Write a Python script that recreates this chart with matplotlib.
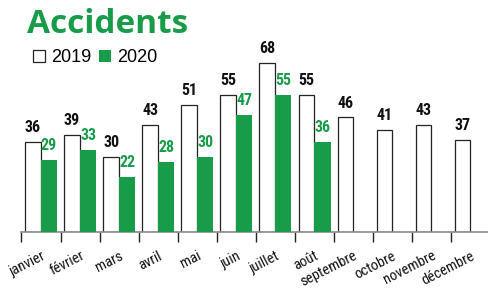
import matplotlib
matplotlib.use("Agg")
import matplotlib.pyplot as plt
import numpy as np

months = ['janvier', 'février', 'mars', 'avril', 'mai', 'juin', 'juillet',
          'août', 'septembre', 'octobre', 'novembre', 'décembre']
acc_2019 = [36, 39, 30, 43, 51, 55, 68, 55, 46, 41, 43, 37]
acc_2020 = [29, 33, 22, 28, 30, 47, 55, 36]
series_names = ['2019', '2020']
title = 'Accidents'

GREEN = '#189c4a'
NARROW = ['Roboto Condensed', 'PT Sans Narrow', 'Liberation Sans', 'DejaVu Sans']

W, H = 488, 288
fig = plt.figure(figsize=(W / 100, H / 100), dpi=100)
ax = fig.add_axes([21.5 / W, 56 / H, (490 - 21.5) / W, 174.3 / H])

x = np.arange(len(months))
x20 = np.arange(len(acc_2020))
bw = 0.40
off = 0.205
b19 = ax.bar(x - off, acc_2019, width=bw, facecolor='white', edgecolor='#222222',
             linewidth=0.9, label=series_names[0], zorder=2)
b20 = ax.bar(x20 + off, acc_2020, width=bw + 0.02, facecolor=GREEN, edgecolor='none',
             linewidth=0, label=series_names[1], zorder=3)

for xi, v in zip(x, acc_2019):
    ax.annotate(str(v), (xi - off, v), xytext=(0, 5), textcoords='offset points',
                ha='center', va='bottom', fontsize=11.5, fontweight='bold',
                family=NARROW, color='#111111', clip_on=False)
for xi, v in zip(x20, acc_2020):
    ax.annotate(str(v), (xi + off, v), xytext=(0, 5), textcoords='offset points',
                ha='center', va='bottom', fontsize=11.5, fontweight='bold',
                family=NARROW, color=GREEN, clip_on=False)

ax.set_xlim(-0.5, len(months) - 0.5)
ax.set_ylim(0, 70)
for s in ['left', 'right', 'top']:
    ax.spines[s].set_visible(False)
ax.spines['bottom'].set_color('#8a8a8a')
ax.spines['bottom'].set_linewidth(1.2)
ax.set_yticks([])

ax.set_xticks(x)
ax.set_xticklabels(months, rotation=27, ha='right', rotation_mode='anchor',
                   family=NARROW, fontsize=10.5, color='#111111')
ax.tick_params(axis='x', which='major', length=0, pad=12)
ax.set_xticks(np.arange(-0.5, len(months) - 0.4, 1), minor=True)
ax.tick_params(axis='x', which='minor', length=7, width=1, color='#222222',
               direction='out')

fig.text(27 / W, 1 - 33 / H, title, fontsize=24, fontweight='bold',
         family=['Open Sans', 'DejaVu Sans'], color=GREEN, ha='left', va='baseline')

fig.legend(handles=[b19, b20], labels=series_names, loc='center left',
           bbox_to_anchor=(33 / W, 1 - 57.5 / H), ncol=2, frameon=False,
           prop={'family': ['Liberation Sans', 'DejaVu Sans'], 'size': 13},
           handlelength=0.65, handleheight=0.65, handletextpad=0.35,
           columnspacing=0.45, borderpad=0, borderaxespad=0)

fig.savefig('out.png', dpi=100)
